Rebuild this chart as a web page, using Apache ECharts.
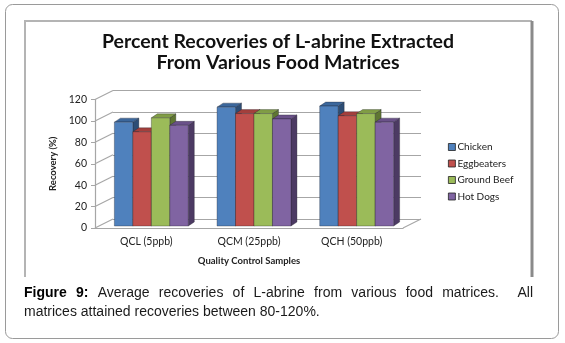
<!DOCTYPE html>
<html>
<head>
<meta charset="utf-8">
<script src="https://cdn.jsdelivr.net/npm/echarts@6/dist/echarts.min.js"></script>
<style>
  html, body { margin: 0; padding: 0; background: #fff; }
  #main { width: 565px; height: 343px; }
</style>
</head>
<body>
<div id="main"></div>
<script>
var categories = ['QCL (5ppb)', 'QCM (25ppb)', 'QCH (50ppb)'];
var seriesNames = ['Chicken', 'Eggbeaters', 'Ground Beef', 'Hot Dogs'];
var chicken = [97, 111, 112];
var eggbeaters = [88, 105, 103];
var groundBeef = [101, 105, 105];
var hotDogs = [94, 100, 97];
var yTicks = [0, 20, 40, 60, 80, 100, 120];

var values = [chicken, eggbeaters, groundBeef, hotDogs];
// front / side / top colours like excel 2007 3d columns
var faceColors = [
  ['#4f81bd', '#2c4d75', '#3b679c'],
  ['#c0504d', '#7d2f2d', '#a33f3c'],
  ['#9bbb59', '#5f7632', '#809d45'],
  ['#8064a2', '#4c3a63', '#6a5189']
];
var WALL = [18, -9];      // back wall offset
var SHIFT = [5, -2];      // bars stand a bit inside the floor
var DEPTH = [6, -4];      // bar depth

var chart = echarts.init(document.getElementById('main'));

function bar3d(s) {
  return function (params, api) {
    var cat = api.value(0), val = api.value(1);
    var base = api.coord([cat, 0]);
    var top = api.coord([cat, val]);
    var bw = api.size([1, 0])[0] * 0.18;
    var x0 = base[0] - 2 * bw + s * bw + SHIFT[0];
    var yb = base[1] + SHIFT[1], yt = top[1] + SHIFT[1];
    var c = faceColors[s];
    var line = { stroke: 'rgba(30,30,40,0.55)', lineWidth: 0.6 };
    return {
      type: 'group',
      children: [
        { type: 'polygon', shape: { points: [[x0 + bw, yt], [x0 + bw + DEPTH[0], yt + DEPTH[1]], [x0 + bw + DEPTH[0], yb + DEPTH[1]], [x0 + bw, yb]] },
          style: Object.assign({ fill: c[1] }, line) },
        { type: 'polygon', shape: { points: [[x0, yt], [x0 + DEPTH[0], yt + DEPTH[1]], [x0 + bw + DEPTH[0], yt + DEPTH[1]], [x0 + bw, yt]] },
          style: Object.assign({ fill: c[2] }, line) },
        { type: 'rect', shape: { x: x0, y: yt, width: bw, height: yb - yt },
          style: Object.assign({ fill: c[0] }, line) }
      ]
    };
  };
}

function wallLines(params, api) {
  var v = api.value(0);
  var half = api.size([1, 0])[0] / 2;
  var left = api.coord([0, v]);
  var x = left[0] - half, y = left[1];
  var kids = [{ type: 'line', shape: { x1: x, y1: y, x2: x + WALL[0], y2: y + WALL[1] },
    style: { stroke: '#a6a6a6', lineWidth: 1.2 } }];
  if (v === 0) {
    var right = api.coord([categories.length - 1, 0]);
    var xr = right[0] + half;
    kids.push({ type: 'line', shape: { x1: xr, y1: y, x2: xr + WALL[0], y2: y + WALL[1] },
      style: { stroke: '#a6a6a6', lineWidth: 1.2 } });
  }
  return { type: 'group', children: kids };
}

var series = [{
  type: 'custom',
  xAxisIndex: 0, yAxisIndex: 0,
  data: yTicks.map(function (t) { return [t]; }),
  renderItem: wallLines,
  silent: true,
  z: 1
}];
seriesNames.forEach(function (name, s) {
  series.push({
    name: name,
    type: 'custom',
    xAxisIndex: 0, yAxisIndex: 0,
    itemStyle: { color: faceColors[s][0] },
    data: values[s].map(function (v, i) { return [i, v]; }),
    encode: { x: 0, y: 1 },
    renderItem: bar3d(s),
    z: 3
  });
});

var fontF = 'Lato, "Open Sans", sans-serif';
var capFont = '14px "Liberation Sans", Arial, sans-serif';
var capBold = 'bold 14px "Liberation Sans", Arial, sans-serif';

// caption line 1 is justified between x=24 and x=533
var capWords = ['Figure', '9:', 'Average', 'recoveries', 'of', 'L-abrine', 'from', 'various', 'food', 'matrices.', '', 'All'];
var ctx = document.createElement('canvas').getContext('2d');
var widths = capWords.map(function (w, i) {
  ctx.font = i < 2 ? capBold : capFont;
  return ctx.measureText(w).width;
});
var total = widths.reduce(function (a, b) { return a + b; }, 0);
var gap = (533 - 24 - total) / (capWords.length - 1);
var capGraphics = [];
var cx = 24;
capWords.forEach(function (w, i) {
  if (w) {
    capGraphics.push({ type: 'text', x: cx, y: 286,
      style: { text: w, font: i < 2 ? capBold : capFont, fill: i < 2 ? '#000' : '#1a1a1a' } });
  }
  cx += widths[i] + gap;
});

chart.setOption({
  backgroundColor: '#fff',
  animation: false,
  title: {
    text: 'Percent Recoveries of L-abrine Extracted\nFrom Various Food Matrices',
    left: 273, top: 26, textAlign: 'center',
    textStyle: { fontFamily: fontF, fontSize: 19.5, fontWeight: 'bold', color: '#111', lineHeight: 21 }
  },
  legend: {
    orient: 'vertical', left: 448, top: 142, padding: 0,
    icon: 'rect', itemWidth: 7, itemHeight: 7, itemGap: 6.5,
    itemStyle: { borderColor: '#222', borderWidth: 0.8 },
    textStyle: { fontFamily: fontF, fontSize: 10, color: '#222', padding: [0, 0, 0, -3] },
    data: seriesNames
  },
  grid: [
    { left: 95, right: 162, top: 99.5, bottom: 115 },
    { left: 95 + WALL[0], right: 162 - WALL[0], top: 99.5 + WALL[1], bottom: 115 - WALL[1] }
  ],
  xAxis: [{
    gridIndex: 0, type: 'category', data: categories,
    axisLine: { lineStyle: { color: '#a6a6a6', width: 1.2 } },
    axisTick: { length: 4, lineStyle: { color: '#a6a6a6' } },
    axisLabel: { fontFamily: fontF, fontSize: 10.5, color: '#222', margin: 8 },
    name: 'Quality Control Samples', nameLocation: 'middle', nameGap: 28,
    nameTextStyle: { fontFamily: fontF, fontSize: 9.5, fontWeight: 'bold', color: '#222' }
  }, {
    gridIndex: 1, type: 'category', data: categories, show: false
  }],
  yAxis: [{
    gridIndex: 0, type: 'value', min: 0, max: 120, interval: 20,
    axisLine: { show: true, lineStyle: { color: '#a6a6a6', width: 1.2 } },
    axisTick: { show: true, length: 4, lineStyle: { color: '#a6a6a6' } },
    splitLine: { show: false },
    axisLabel: { fontFamily: fontF, fontSize: 10.5, color: '#222', margin: 8 },
    name: 'Recovery (%)', nameLocation: 'middle', nameGap: 21, nameRotate: 90,
    nameTextStyle: { fontFamily: fontF, fontSize: 9.5, fontWeight: 'bold', color: '#222' }
  }, {
    gridIndex: 1, type: 'value', min: 0, max: 120, interval: 20,
    axisLine: { show: false }, axisTick: { show: false }, axisLabel: { show: false },
    splitLine: { show: true, lineStyle: { color: '#a6a6a6', width: 1.2 } }
  }],
  graphic: [
    { type: 'rect', shape: { x: 5.5, y: 4.5, width: 553, height: 334, r: 7 },
      style: { fill: 'none', stroke: '#9a9a9a', lineWidth: 1 }, silent: true },
    { type: 'polyline', shape: { points: [[25, 277], [25, 21], [532, 21]] },
      style: { fill: 'none', stroke: '#b4b4b4', lineWidth: 2 }, silent: true },
    { type: 'line', shape: { x1: 532, y1: 21, x2: 532, y2: 277 },
      style: { stroke: '#8a8a8a', lineWidth: 3 }, silent: true },
    { type: 'text', left: 24, top: 305,
      style: { text: 'matrices attained recoveries between 80-120%.', font: capFont, fill: '#1a1a1a' } }
  ].concat(capGraphics),
  series: series
});
</script>
</body>
</html>
